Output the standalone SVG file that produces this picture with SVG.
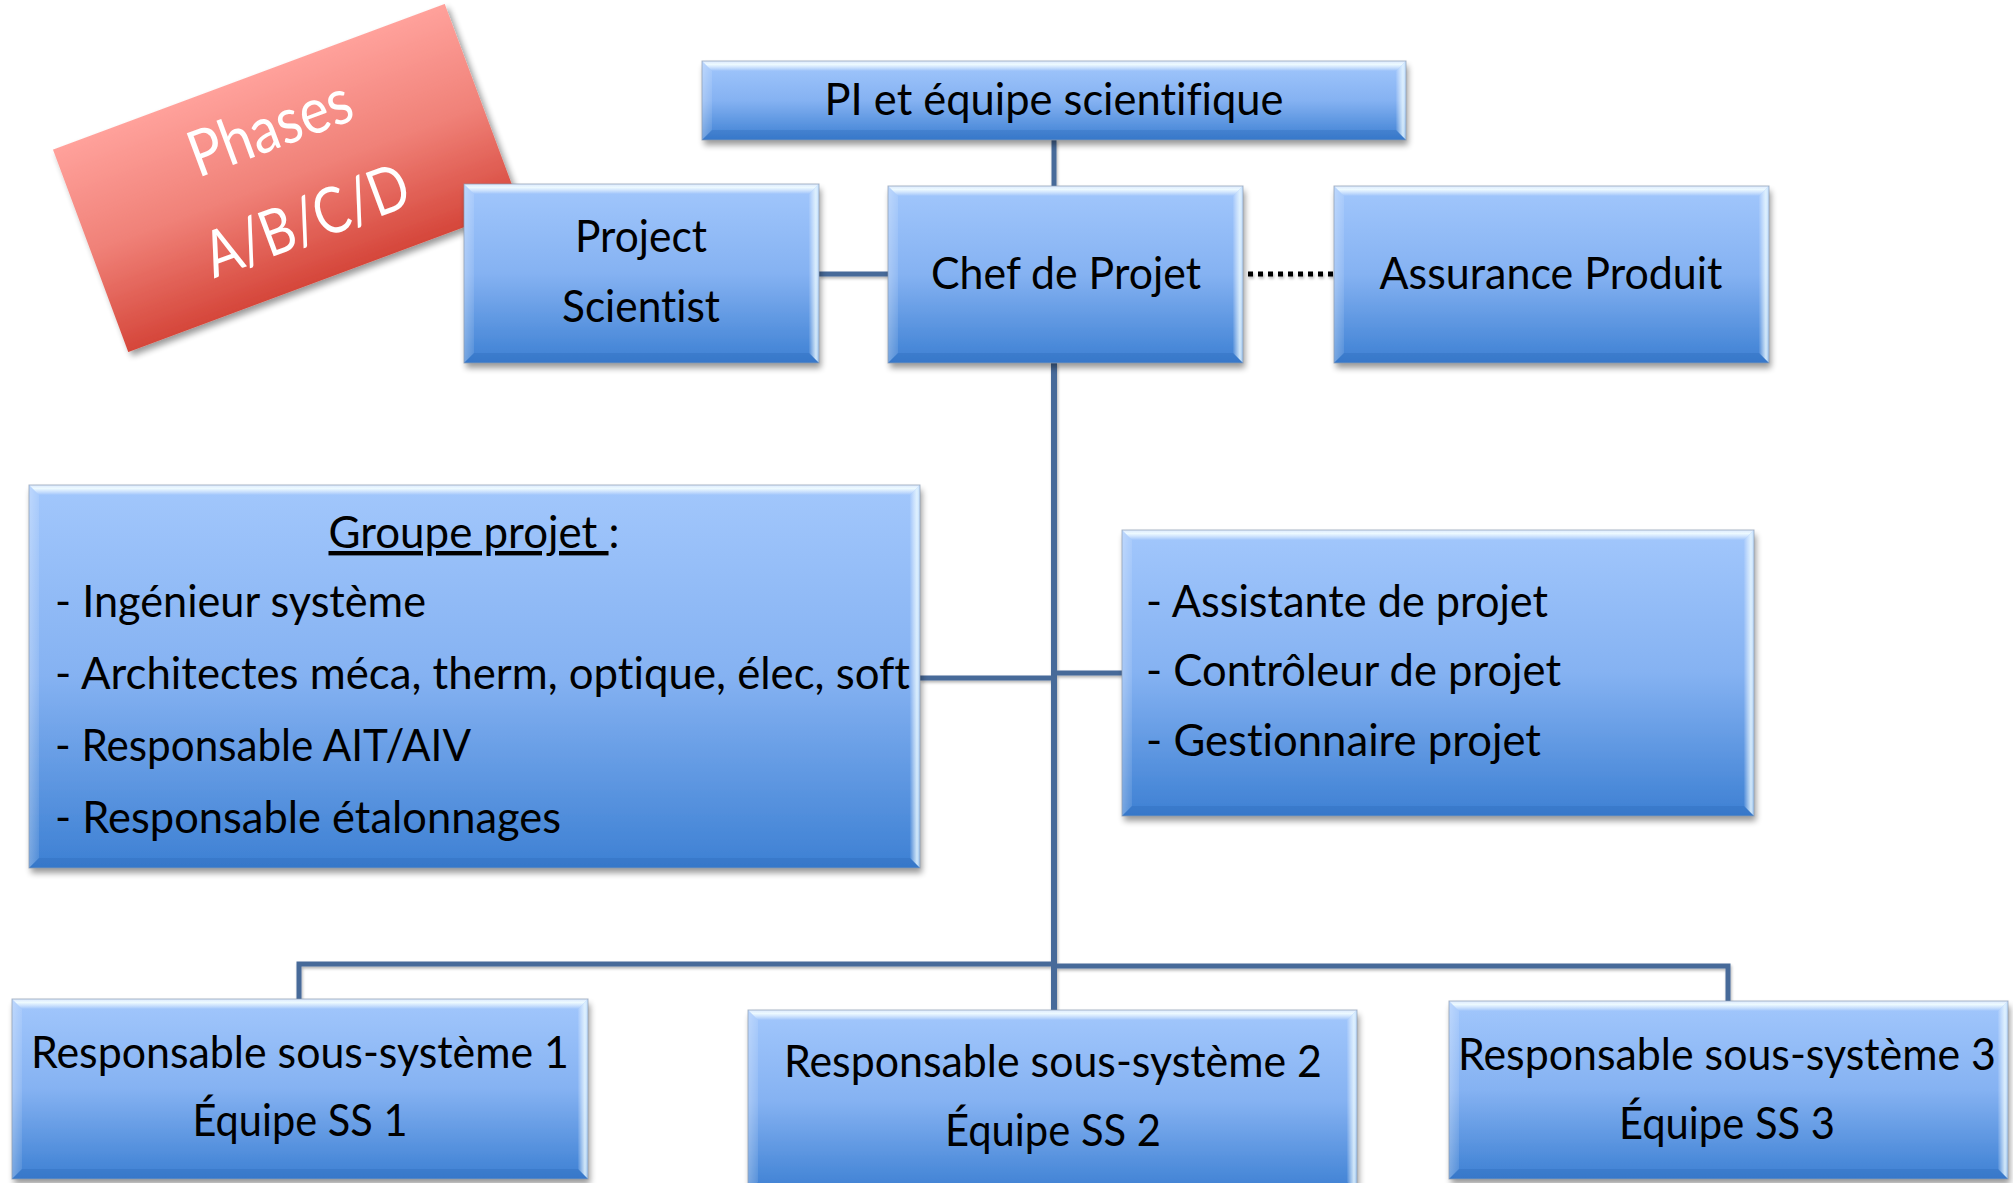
<svg xmlns="http://www.w3.org/2000/svg" width="2013" height="1183" viewBox="0 0 2013 1183">
  <defs>
    <linearGradient id="gBody" x1="0" y1="0" x2="0" y2="1">
      <stop offset="0" stop-color="#a2c7fc"/>
      <stop offset="0.5" stop-color="#85b2f2"/>
      <stop offset="1" stop-color="#3d80d3"/>
    </linearGradient>
    <linearGradient id="gTop" x1="0" y1="0" x2="0" y2="1">
      <stop offset="0" stop-color="#ffffff" stop-opacity="0.6"/>
      <stop offset="0.35" stop-color="#f0fcff" stop-opacity="0.95"/>
      <stop offset="1" stop-color="#ffffff" stop-opacity="0"/>
    </linearGradient>
    <linearGradient id="gRight" x1="0" y1="0" x2="1" y2="0">
      <stop offset="0" stop-color="#ffffff" stop-opacity="0.05"/>
      <stop offset="0.7" stop-color="#eaf9ff" stop-opacity="0.85"/>
      <stop offset="1" stop-color="#d6ecff" stop-opacity="0.6"/>
    </linearGradient>
    <linearGradient id="gLeft" x1="0" y1="0" x2="1" y2="0">
      <stop offset="0" stop-color="#ffffff" stop-opacity="0.3"/>
      <stop offset="1" stop-color="#ffffff" stop-opacity="0.1"/>
    </linearGradient>
    <linearGradient id="gRed" x1="0" y1="0" x2="0" y2="1">
      <stop offset="0" stop-color="#ffa19b"/>
      <stop offset="0.5" stop-color="#f08178"/>
      <stop offset="1" stop-color="#d5463a"/>
    </linearGradient>
    <filter id="sh" x="-5%" y="-10%" width="112%" height="130%">
      <feGaussianBlur in="SourceAlpha" stdDeviation="3"/>
      <feOffset dx="2" dy="5"/>
      <feComponentTransfer><feFuncA type="linear" slope="0.4"/></feComponentTransfer>
      <feMerge><feMergeNode/><feMergeNode in="SourceGraphic"/></feMerge>
    </filter>
    <filter id="lsh" x="-10%" y="-10%" width="120%" height="120%">
      <feGaussianBlur in="SourceAlpha" stdDeviation="1.5"/>
      <feOffset dx="1" dy="2"/>
      <feComponentTransfer><feFuncA type="linear" slope="0.3"/></feComponentTransfer>
      <feMerge><feMergeNode/><feMergeNode in="SourceGraphic"/></feMerge>
    </filter>
  </defs>
  <style>
    .body { fill: url(#gBody); filter: url(#sh); }
    .bt { fill: url(#gTop); }
    .bl { fill: url(#gLeft); }
    .br { fill: url(#gRight); }
    .bb { fill: #1f5aa8; fill-opacity: 0.22; }
    .edge { fill: none; stroke: #8d9db3; stroke-width: 1; stroke-opacity: 0.7; }
    text { font-variant-ligatures: none; }
    .lbl { font-family: Lato, "Open Sans", "DejaVu Sans", sans-serif; font-size: 44px; fill: #000; }
    .mid { text-anchor: middle; }
    .conn { fill: none; stroke: #476a99; stroke-width: 5; }
    .dots { fill: none; stroke: #000; stroke-width: 5; stroke-dasharray: 5 5; }
    .phase { font-family: Lato, "Open Sans", "DejaVu Sans", sans-serif; font-size: 64px; fill: #fff; text-anchor: middle; }
  </style>

  <rect width="2013" height="1183" fill="#fff"/>

  <!-- rotated phase label -->
  <g id="phases" transform="translate(286.5,178) rotate(-20.4)">
    <rect x="-209" y="-108" width="418" height="216" fill="url(#gRed)" filter="url(#sh)"/>
    <text class="phase" x="2" y="-31" textLength="170" lengthAdjust="spacingAndGlyphs">Phases</text>
    <text class="phase" x="4" y="69" textLength="214" lengthAdjust="spacingAndGlyphs">A/B/C/D</text>
  </g>

  <!-- connectors -->
  <g id="connectors" filter="url(#lsh)">
    <path class="conn" d="M1054 140 V186"/>
    <path class="conn" d="M1054 363 V1010" style="stroke-width:6"/>
    <path class="conn" d="M819 274 H888"/>
    <path class="dots" d="M1248 274 H1333"/>
    <path class="conn" d="M920 678 H1054"/>
    <path class="conn" d="M1054 673 H1122"/>
    <path class="conn" d="M299 999 V964 H1054"/>
    <path class="conn" d="M1054 966 H1728 V1001"/>
  </g>

  <!-- PI -->
  <g id="pi">
    <rect class="body" x="702" y="61" width="704" height="79"/>
    <polygon class="bt" points="702,61 1406,61 1396,71 712,71"/>
    <polygon class="bl" points="702,61 712,71 712,130 702,140"/>
    <polygon class="br" points="1406,61 1406,140 1396,130 1396,71"/>
    <polygon class="bb" points="702,140 712,130 1396,130 1406,140"/>
    <rect class="edge" x="702" y="61" width="704" height="79"/>
    <text class="lbl mid" x="1054" y="115" textLength="459" lengthAdjust="spacingAndGlyphs">PI et équipe scientifique</text>
  </g>

  <!-- Project Scientist -->
  <g id="project-scientist">
    <rect class="body" x="464" y="184" width="355" height="179"/>
    <polygon class="bt" points="464,184 819,184 809,194 474,194"/>
    <polygon class="bl" points="464,184 474,194 474,353 464,363"/>
    <polygon class="br" points="819,184 819,363 809,353 809,194"/>
    <polygon class="bb" points="464,363 474,353 809,353 819,363"/>
    <rect class="edge" x="464" y="184" width="355" height="179"/>
    <text class="lbl mid" x="641" y="252" textLength="132" lengthAdjust="spacingAndGlyphs">Project</text>
    <text class="lbl mid" x="641" y="322" textLength="158" lengthAdjust="spacingAndGlyphs">Scientist</text>
  </g>

  <!-- Chef de Projet -->
  <g id="chef-projet">
    <rect class="body" x="888" y="186" width="355" height="177"/>
    <polygon class="bt" points="888,186 1243,186 1233,196 898,196"/>
    <polygon class="bl" points="888,186 898,196 898,353 888,363"/>
    <polygon class="br" points="1243,186 1243,363 1233,353 1233,196"/>
    <polygon class="bb" points="888,363 898,353 1233,353 1243,363"/>
    <rect class="edge" x="888" y="186" width="355" height="177"/>
    <text class="lbl mid" x="1066" y="289" textLength="270" lengthAdjust="spacingAndGlyphs">Chef de Projet</text>
  </g>

  <!-- Assurance Produit -->
  <g id="assurance-produit">
    <rect class="body" x="1334" y="186" width="435" height="177"/>
    <polygon class="bt" points="1334,186 1769,186 1759,196 1344,196"/>
    <polygon class="bl" points="1334,186 1344,196 1344,353 1334,363"/>
    <polygon class="br" points="1769,186 1769,363 1759,353 1759,196"/>
    <polygon class="bb" points="1334,363 1344,353 1759,353 1769,363"/>
    <rect class="edge" x="1334" y="186" width="435" height="177"/>
    <text class="lbl mid" x="1551" y="289" textLength="343" lengthAdjust="spacingAndGlyphs">Assurance Produit</text>
  </g>

  <!-- Groupe projet -->
  <g id="groupe-projet">
    <rect class="body" x="29" y="485" width="891" height="383"/>
    <polygon class="bt" points="29,485 920,485 910,495 39,495"/>
    <polygon class="bl" points="29,485 39,495 39,858 29,868"/>
    <polygon class="br" points="920,485 920,868 910,858 910,495"/>
    <polygon class="bb" points="29,868 39,858 910,858 920,868"/>
    <rect class="edge" x="29" y="485" width="891" height="383"/>
    <text class="lbl mid" x="474" y="548" textLength="291" lengthAdjust="spacingAndGlyphs"><tspan text-decoration="underline">Groupe projet </tspan>:</text>
    <text class="lbl" x="55" y="617" textLength="371" lengthAdjust="spacingAndGlyphs">- Ingénieur système</text>
    <text class="lbl" x="55" y="689" textLength="855" lengthAdjust="spacingAndGlyphs">- Architectes méca, therm, optique, élec, soft</text>
    <text class="lbl" x="55" y="761" textLength="416" lengthAdjust="spacingAndGlyphs">- Responsable AIT/AIV</text>
    <text class="lbl" x="55" y="833" textLength="506" lengthAdjust="spacingAndGlyphs">- Responsable étalonnages</text>
  </g>

  <!-- support staff -->
  <g id="support">
    <rect class="body" x="1122" y="530" width="632" height="286"/>
    <polygon class="bt" points="1122,530 1754,530 1744,540 1132,540"/>
    <polygon class="bl" points="1122,530 1132,540 1132,806 1122,816"/>
    <polygon class="br" points="1754,530 1754,816 1744,806 1744,540"/>
    <polygon class="bb" points="1122,816 1132,806 1744,806 1754,816"/>
    <rect class="edge" x="1122" y="530" width="632" height="286"/>
    <text class="lbl" x="1146" y="617" textLength="402" lengthAdjust="spacingAndGlyphs">- Assistante de projet</text>
    <text class="lbl" x="1146" y="686" textLength="415" lengthAdjust="spacingAndGlyphs">- Contrôleur de projet</text>
    <text class="lbl" x="1146" y="756" textLength="395" lengthAdjust="spacingAndGlyphs">- Gestionnaire projet</text>
  </g>

  <!-- sub-system 1 -->
  <g id="ss1">
    <rect class="body" x="12" y="999" width="576" height="180"/>
    <polygon class="bt" points="12,999 588,999 578,1009 22,1009"/>
    <polygon class="bl" points="12,999 22,1009 22,1169 12,1179"/>
    <polygon class="br" points="588,999 588,1179 578,1169 578,1009"/>
    <polygon class="bb" points="12,1179 22,1169 578,1169 588,1179"/>
    <rect class="edge" x="12" y="999" width="576" height="180"/>
    <text class="lbl mid" x="300" y="1068" textLength="538" lengthAdjust="spacingAndGlyphs">Responsable sous-système 1</text>
    <text class="lbl mid" x="300" y="1136" textLength="215" lengthAdjust="spacingAndGlyphs">Équipe SS 1</text>
  </g>

  <!-- sub-system 2 -->
  <g id="ss2">
    <rect class="body" x="748" y="1010" width="609" height="182"/>
    <polygon class="bt" points="748,1010 1357,1010 1347,1020 758,1020"/>
    <polygon class="bl" points="748,1010 758,1020 758,1182 748,1192"/>
    <polygon class="br" points="1357,1010 1357,1192 1347,1182 1347,1020"/>
    <rect class="edge" x="748" y="1010" width="609" height="182"/>
    <text class="lbl mid" x="1053" y="1077" textLength="538" lengthAdjust="spacingAndGlyphs">Responsable sous-système 2</text>
    <text class="lbl mid" x="1053" y="1146" textLength="216" lengthAdjust="spacingAndGlyphs">Équipe SS 2</text>
  </g>

  <!-- sub-system 3 -->
  <g id="ss3">
    <rect class="body" x="1449" y="1001" width="559" height="178"/>
    <polygon class="bt" points="1449,1001 2008,1001 1998,1011 1459,1011"/>
    <polygon class="bl" points="1449,1001 1459,1011 1459,1169 1449,1179"/>
    <polygon class="br" points="2008,1001 2008,1179 1998,1169 1998,1011"/>
    <polygon class="bb" points="1449,1179 1459,1169 1998,1169 2008,1179"/>
    <rect class="edge" x="1449" y="1001" width="559" height="178"/>
    <text class="lbl mid" x="1727" y="1070" textLength="538" lengthAdjust="spacingAndGlyphs">Responsable sous-système 3</text>
    <text class="lbl mid" x="1727" y="1139" textLength="216" lengthAdjust="spacingAndGlyphs">Équipe SS 3</text>
  </g>
</svg>
